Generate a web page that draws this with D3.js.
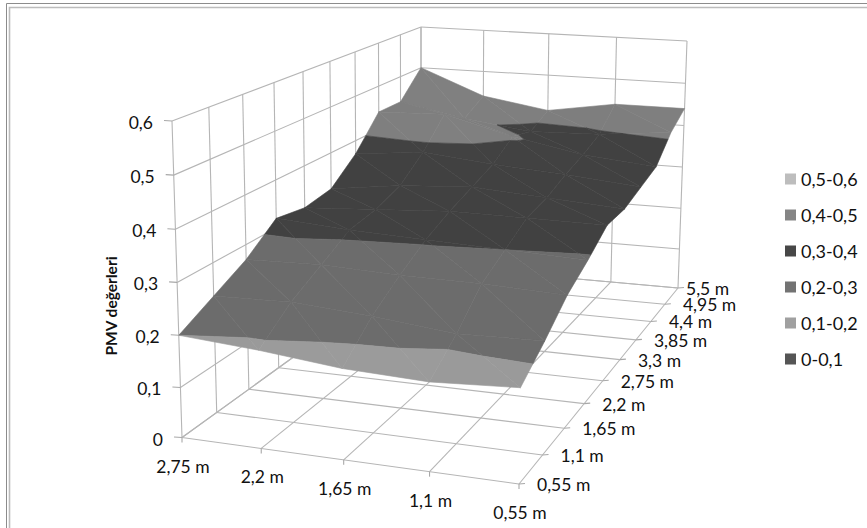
<!DOCTYPE html>
<html>
<head>
<meta charset="utf-8">
<script src="https://cdn.jsdelivr.net/npm/d3@7/dist/d3.min.js"></script>
<style>
  html, body { margin: 0; padding: 0; background: #fff; overflow: hidden; }
  svg { display: block; }
  text { font-family: Lato, "Open Sans", sans-serif; fill: #111; }
</style>
</head>
<body>
<svg id="chart" width="867" height="528"></svg>
<script>
// Width positions (front axis) and depth positions (side axis), in metres
const widthLabels = ["2,75 m", "2,2 m", "1,65 m", "1,1 m", "0,55 m"];
const depthLabels = ["0,55 m", "1,1 m", "1,65 m", "2,2 m", "2,75 m", "3,3 m", "3,85 m", "4,4 m", "4,95 m", "5,5 m"];
const valueTicks = [0, 0.1, 0.2, 0.3, 0.4, 0.5, 0.6];
const valueLabels = ["0", "0,1", "0,2", "0,3", "0,4", "0,5", "0,6"];

// PMV per depth position; each row runs across widthLabels
const pmvAt055 = [0.200, 0.190, 0.175, 0.170, 0.180];
const pmvAt110 = [0.235, 0.240, 0.230, 0.215, 0.220];
const pmvAt165 = [0.270, 0.275, 0.270, 0.270, 0.265];
const pmvAt220 = [0.320, 0.310, 0.305, 0.300, 0.295];
const pmvAt275 = [0.310, 0.320, 0.330, 0.330, 0.330];
const pmvAt330 = [0.320, 0.340, 0.350, 0.340, 0.330];
const pmvAt385 = [0.370, 0.385, 0.370, 0.360, 0.345];
const pmvAt440 = [0.440, 0.445, 0.405, 0.375, 0.360];
const pmvAt495 = [0.440, 0.410, 0.390, 0.395, 0.410];
const pmvAt550 = [0.500, 0.440, 0.415, 0.440, 0.440];
const pmvRows = [pmvAt055, pmvAt110, pmvAt165, pmvAt220, pmvAt275, pmvAt330, pmvAt385, pmvAt440, pmvAt495, pmvAt550];

// Legend bands, top to bottom, with their fill colours
const bandNames = ["0,5-0,6", "0,4-0,5", "0,3-0,4", "0,2-0,3", "0,1-0,2", "0-0,1"];
const bandLows = [0.5, 0.4, 0.3, 0.2, 0.1, 0];
const bandColors = ["#bdbdbd", "#858585", "#474747", "#737373", "#a0a0a0", "#555555"];
const surfaceColors = ["#b8b8b8", "#7e7e7e", "#414141", "#6b6b6b", "#999999", "#505050"];

const svg = d3.select("#chart");

// Chart frame: open on the right and at the bottom
svg.append("path").attr("d", "M6.5,528V3.5H867").attr("fill", "none").attr("stroke", "#8c8c8c").attr("stroke-width", 1);
svg.append("path").attr("d", "M9.5,528V7.5H867").attr("fill", "none").attr("stroke", "#bcbcbc").attr("stroke-width", 1.6);

// 3-D view: two plane homographies (floor and ceiling of the box) blended by height
function homography(c) {
  // unit square (u,v) to the quad c[0]=(0,0), c[1]=(1,0), c[2]=(1,1), c[3]=(0,1)
  const [p0, p1, p2, p3] = c;
  const dx1 = p1[0] - p2[0], dx2 = p3[0] - p2[0], sx = p0[0] - p1[0] + p2[0] - p3[0];
  const dy1 = p1[1] - p2[1], dy2 = p3[1] - p2[1], sy = p0[1] - p1[1] + p2[1] - p3[1];
  const det = dx1 * dy2 - dx2 * dy1;
  const g = (sx * dy2 - dx2 * sy) / det, h = (dx1 * sy - sx * dy1) / det;
  const a = p1[0] - p0[0] + g * p1[0], b = p3[0] - p0[0] + h * p3[0], cc = p0[0];
  const d = p1[1] - p0[1] + g * p1[1], e = p3[1] - p0[1] + h * p3[1], f = p0[1];
  return (u, v) => {
    const w = g * u + h * v + 1;
    return [(a * u + b * v + cc) / w, (d * u + e * v + f) / w];
  };
}
const floorAt = homography([[182, 437.5], [519, 484], [678, 288], [421, 265]]);
const ceilAt  = homography([[172, 121], [524, 152], [687, 41], [421, 27]]);

// Scales from category and value to normalised box coordinates
const uScale = d3.scalePoint().domain(d3.range(widthLabels.length)).range([0, 1]);
const vScale = d3.scalePoint().domain(d3.range(depthLabels.length)).range([0, 1]);
const zScale = d3.scaleLinear().domain(valueTicks).range([0, 0.158, 0.323, 0.49, 0.658, 0.829, 1]);

function project(u, v, z) {
  const a = floorAt(u, v), b = ceilAt(u, v), t = zScale(z);
  return [a[0] + (b[0] - a[0]) * t, a[1] + (b[1] - a[1]) * t];
}
const zMax = d3.max(valueTicks);

// Box walls and floor
const gridLayer = svg.append("g").attr("fill", "none").attr("stroke", "#b5b5b5").attr("stroke-width", 1.1);
const line = d3.line();
const closedLine = d3.line().curve(d3.curveLinearClosed);
function seg(p, q) { gridLayer.append("path").attr("d", line([p, q])); }

valueTicks.forEach(z => {
  seg(project(0, 0, z), project(0, 1, z));
  seg(project(0, 1, z), project(1, 1, z));
});
vScale.domain().forEach(j => {
  const v = vScale(j);
  seg(project(0, v, 0), project(0, v, zMax));
  seg(project(0, v, 0), project(1, v, 0));
});
uScale.domain().forEach(i => {
  const u = uScale(i);
  seg(project(u, 1, 0), project(u, 1, zMax));
  seg(project(u, 0, 0), project(u, 1, 0));
});

// Cut a polygon of {u,v,z} corners at a height, keeping one side
function clipAt(poly, level, keepAbove) {
  const out = [];
  const inside = p => keepAbove ? p.z >= level : p.z <= level;
  poly.forEach((p, k) => {
    const q = poly[(k + 1) % poly.length];
    if (inside(p)) out.push(p);
    if (inside(p) !== inside(q)) {
      const t = (level - p.z) / (q.z - p.z);
      out.push({ u: p.u + (q.u - p.u) * t, v: p.v + (q.v - p.v) * t, z: level });
    }
  });
  return out;
}

// Facets: each grid cell is split along one diagonal, back rows first
const facets = [];
const nU = widthLabels.length, nV = depthLabels.length;
for (let j = nV - 2; j >= 0; j--) {
  for (let i = 0; i < nU - 1; i++) {
    const c = [[i, j], [i + 1, j], [i + 1, j + 1], [i, j + 1]].map(([a, b]) => ({ u: uScale(a), v: vScale(b), z: pmvRows[b][a] }));
    facets.push([c[1], c[2], c[3]], [c[0], c[1], c[3]]);
  }
}

// Soft shading from the facet's slope, so the folds of the sheet read faintly
const shadeScale = d3.scaleLinear().domain([-0.8, 0.8]).range([-0.16, 0.16]).clamp(true);
function shade(tri) {
  const [a, b, c] = tri;
  const ux = b.u - a.u, uy = b.v - a.v, uz = b.z - a.z;
  const vx = c.u - a.u, vy = c.v - a.v, vz = c.z - a.z;
  let nx = uy * vz - uz * vy, ny = uz * vx - ux * vz, nz = ux * vy - uy * vx;
  if (nz < 0) { nx = -nx; ny = -ny; nz = -nz; }
  return shadeScale((nx * 0.8 - ny * 0.25) / nz);
}

const surface = svg.append("g");
facets.forEach(tri => {
  const k = shade(tri);
  bandLows.forEach((lo, b) => {
    let poly = clipAt(tri, lo, true);
    if (poly.length) poly = clipAt(poly, lo + 0.1, false);
    if (poly.length < 3) return;
    const base = d3.rgb(surfaceColors[b]);
    const fill = k >= 0 ? base.brighter(k) : base.darker(-k);
    surface.append("path")
      .attr("d", closedLine(poly.map(p => project(p.u, p.v, p.z))))
      .attr("fill", fill).attr("stroke", fill).attr("stroke-width", 0.6);
  });
});

// Axis tick marks and labels
const ticks = svg.append("g").attr("stroke", "#a8a8a8").attr("stroke-width", 1.1).attr("fill", "none");
const labels = svg.append("g").attr("font-size", 17.5);

valueTicks.forEach((z, k) => {
  const p = project(0, 0, z);
  ticks.append("path").attr("d", line([[p[0] - 8, p[1] - 0.5], p]));
  labels.append("text").attr("x", p[0] - 19).attr("y", p[1] + 8).attr("text-anchor", "end").text(valueLabels[k]);
});
widthLabels.forEach((t, i) => {
  const p = project(uScale(i), 0, 0);
  ticks.append("path").attr("d", line([p, [p[0], p[1] + 5]]));
  labels.append("text").attr("x", p[0] + 1).attr("y", p[1] + 35).attr("text-anchor", "middle").text(t);
});
depthLabels.forEach((t, j) => {
  const p = project(1, vScale(j), 0);
  const last = j === depthLabels.length - 1;
  ticks.append("path").attr("d", line([p, [p[0] + 6, p[1] - 0.5]]));
  labels.append("text").attr("x", p[0] + (last ? 8 : 18)).attr("y", p[1] + 7).text(t);
});

// Axis title
svg.append("text").attr("transform", "translate(117,306) rotate(-90)")
  .attr("text-anchor", "middle").attr("font-size", 15.5).attr("font-weight", 700).text("PMV değerleri");

// Legend
const legendY = d3.scalePoint().domain(bandNames).range([179, 359]);
const legend = svg.append("g");
bandNames.forEach((name, b) => {
  legend.append("rect").attr("x", 785).attr("y", legendY(name) - 5.5).attr("width", 11).attr("height", 11)
    .attr("fill", bandColors[b]);
  legend.append("text").attr("x", 801).attr("y", legendY(name) + 6.5).attr("font-size", 18).text(name);
});
</script>
</body>
</html>
